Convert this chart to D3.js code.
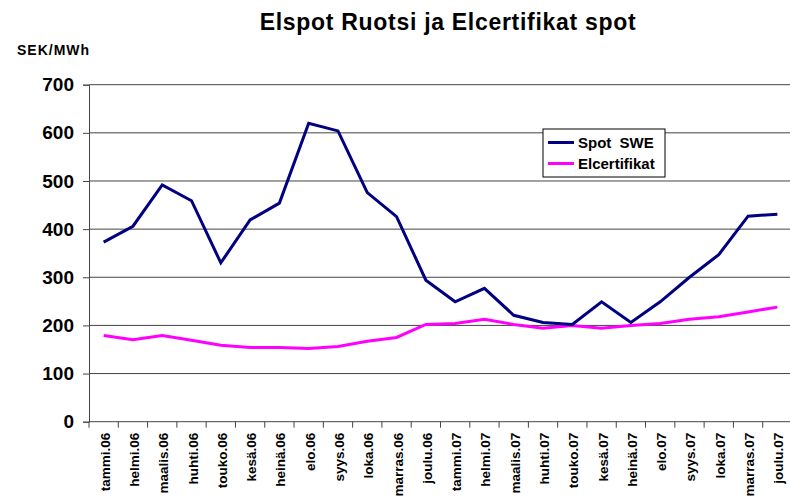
<!DOCTYPE html>
<html>
<head>
<meta charset="utf-8">
<script src="https://cdn.jsdelivr.net/npm/d3@7"></script>
<style>
  body { margin: 0; background: #fff; }
  svg { font-family: "Liberation Sans", Arial, sans-serif; font-weight: bold; }
</style>
</head>
<body>
<script>
const months = ["tammi.06", "helmi.06", "maalis.06", "huhti.06", "touko.06", "kesä.06",
    "heinä.06", "elo.06", "syys.06", "loka.06", "marras.06", "joulu.06",
    "tammi.07", "helmi.07", "maalis.07", "huhti.07", "touko.07", "kesä.07",
    "heinä.07", "elo.07", "syys.07", "loka.07", "marras.07", "joulu.07"];
const spotSWE = [373, 406, 492, 459, 330, 419, 454, 620, 604, 476, 426, 294,
    249, 277, 221, 206, 202, 249, 206, 249, 300, 347, 427, 431];
const elcert = [179, 170, 179, 169, 159, 154, 154, 152, 156, 167, 175, 202,
    204, 213, 202, 194, 200, 194, 200, 204, 213, 218, 228, 238];
const yTicks = [0, 100, 200, 300, 400, 500, 600, 700];

const width = 790, height = 502;
const margin = { top: 84.7, left: 89, right: 792, bottom: 421.7 };

const svg = d3.select("body").append("svg")
    .attr("width", width)
    .attr("height", height);

const x = d3.scaleBand()
    .domain(months)
    .range([margin.left, margin.right]);

const y = d3.scaleLinear()
    .domain([0, 700])
    .range([margin.bottom, margin.top]);

// gridlines
svg.append("g")
    .selectAll("line")
    .data(yTicks.filter(d => d > 0))
    .enter().append("line")
    .attr("x1", margin.left)
    .attr("x2", margin.right)
    .attr("y1", d => y(d))
    .attr("y2", d => y(d))
    .attr("stroke", "#444")
    .attr("stroke-width", 1);

// y axis
const yAxis = d3.axisLeft(y).tickValues(yTicks).tickSize(6).tickPadding(9);
const gy = svg.append("g")
    .attr("transform", "translate(" + margin.left + ",0)")
    .call(yAxis);
gy.select(".domain").attr("stroke", "#444");
gy.selectAll(".tick line").attr("stroke", "#444");
gy.selectAll("text")
    .attr("fill", "#000")
    .style("font-size", "19px")
    .style("font-weight", "bold")
    .style("font-family", "'Liberation Sans', Arial, sans-serif");

// x axis
const gx = svg.append("g")
    .attr("transform", "translate(0," + margin.bottom + ")");
gx.append("line")
    .attr("x1", margin.left)
    .attr("x2", margin.right)
    .attr("stroke", "#444");
gx.selectAll(".sep")
    .data(months.concat(["end"]))
    .enter().append("line")
    .attr("class", "sep")
    .attr("x1", (d, i) => margin.left + i * x.bandwidth())
    .attr("x2", (d, i) => margin.left + i * x.bandwidth())
    .attr("y1", 0)
    .attr("y2", 6)
    .attr("stroke", "#444");
gx.selectAll(".lbl")
    .data(months)
    .enter().append("text")
    .attr("class", "lbl")
    .attr("transform", d => "translate(" + (x(d) + x.bandwidth() / 2 + 6) + ",11) rotate(-90)")
    .attr("text-anchor", "end")
    .style("font-size", "13.5px")
    .text(d => d);

// lines
const line = d3.line()
    .x((d, i) => x(months[i]) + x.bandwidth() / 2)
    .y(d => y(d));

svg.append("path")
    .datum(elcert)
    .attr("fill", "none")
    .attr("stroke", "#ff00ff")
    .attr("stroke-width", 3)
    .attr("d", line);

svg.append("path")
    .datum(spotSWE)
    .attr("fill", "none")
    .attr("stroke", "#000080")
    .attr("stroke-width", 3)
    .attr("d", line);

// title and unit
svg.append("text")
    .attr("x", 448)
    .attr("y", 30)
    .attr("text-anchor", "middle")
    .style("font-size", "23px")
    .style("letter-spacing", "0.7px")
    .text("Elspot Ruotsi ja Elcertifikat spot");

svg.append("text")
    .attr("x", 17)
    .attr("y", 55)
    .style("font-size", "14px")
    .style("letter-spacing", "1px")
    .text("SEK/MWh");

// legend
const legend = svg.append("g").attr("transform", "translate(543,129)");
legend.append("rect")
    .attr("width", 122)
    .attr("height", 48)
    .attr("fill", "#fff")
    .attr("stroke", "#000");
const items = [{ name: "Spot SWE", color: "#000080" }, { name: "Elcertifikat", color: "#ff00ff" }];
const li = legend.selectAll(".item")
    .data(items)
    .enter().append("g")
    .attr("transform", (d, i) => "translate(0," + (13.5 + i * 21) + ")");
li.append("line")
    .attr("x1", 5)
    .attr("x2", 31)
    .attr("stroke", d => d.color)
    .attr("stroke-width", 3);
li.append("text")
    .attr("x", 35)
    .attr("y", 5.5)
    .style("font-size", "15px")
    .style("word-spacing", "4px")
    .text(d => d.name);
</script>
</body>
</html>
